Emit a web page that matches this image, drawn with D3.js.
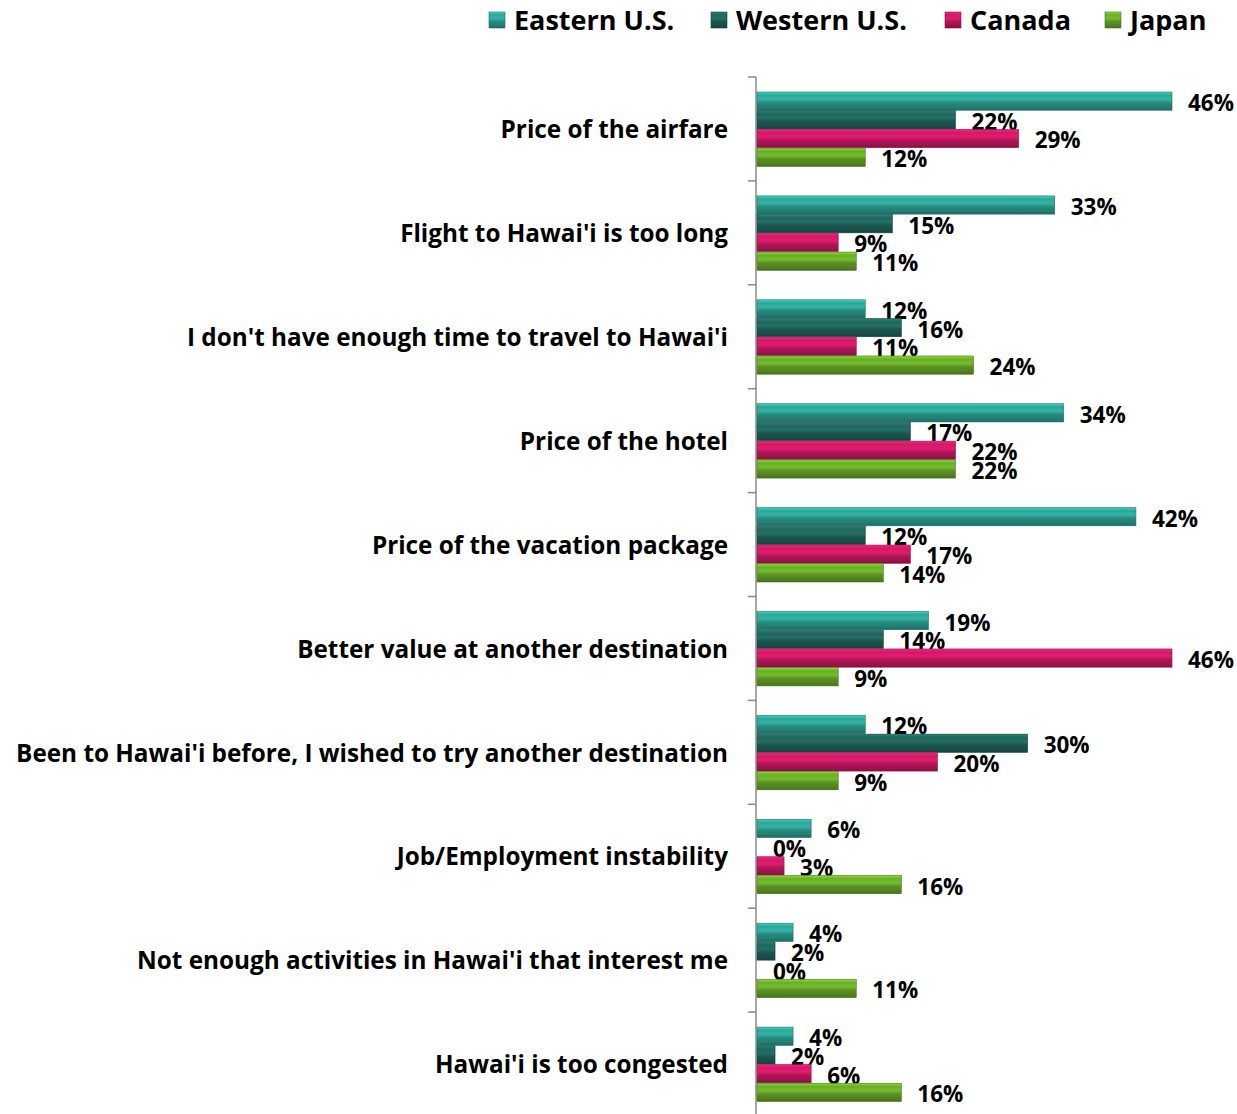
<!DOCTYPE html>
<html>
<head>
<meta charset="UTF-8">
<style>
  body { margin: 0; background: #fff; }
  text { font-family: "Open Sans", Lato, sans-serif; font-weight: bold; fill: #000; }
</style>
<script src="https://d3js.org/d3.v7.min.js"></script>
</head>
<body>
<svg width="1237" height="1114"></svg>
<script>
// reasons for not visiting, share of respondents (%)
var categories = [
  "Price of the airfare",
  "Flight to Hawai'i is too long",
  "I don't have enough time to travel to Hawai'i",
  "Price of the hotel",
  "Price of the vacation package",
  "Better value at another destination",
  "Been to Hawai'i before, I wished to try another destination",
  "Job/Employment instability",
  "Not enough activities in Hawai'i that interest me",
  "Hawai'i is too congested"
];
var seriesNames = ["Eastern U.S.", "Western U.S.", "Canada", "Japan"];
var eastern = [46, 33, 12, 34, 42, 19, 12, 6, 4, 4];
var western = [22, 15, 16, 17, 12, 14, 30, 0, 2, 2];
var canada  = [29, 9, 11, 22, 17, 46, 20, 3, 0, 6];
var japan   = [12, 11, 24, 22, 14, 9, 9, 16, 11, 16];
var seriesValues = [eastern, western, canada, japan];
var colors = ["#2b9a8c", "#1e5f58", "#c2185f", "#64a126"];

var svg = d3.select("svg");
var defs = svg.append("defs");

// bevel-like vertical gradients
colors.forEach(function(c, i) {
  var base = d3.color(c);
  var g = defs.append("linearGradient").attr("id", "grad" + i)
    .attr("x1", 0).attr("y1", 0).attr("x2", 0).attr("y2", 1);
  g.append("stop").attr("offset", "0%").attr("stop-color", base.brighter(0.9));
  g.append("stop").attr("offset", "18%").attr("stop-color", base.brighter(0.2));
  g.append("stop").attr("offset", "40%").attr("stop-color", base.brighter(0.45));
  g.append("stop").attr("offset", "60%").attr("stop-color", base.darker(0.3));
  g.append("stop").attr("offset", "85%").attr("stop-color", base.darker(0.6));
  g.append("stop").attr("offset", "100%").attr("stop-color", base.darker(1.1));
});

var x = d3.scaleLinear().domain([0, 46]).range([757, 1172]);
var y0 = d3.scaleBand().domain(categories).range([77, 1116]).padding(0);
var y1 = d3.scaleBand().domain(seriesNames)
  .range([15, y0.bandwidth() - 14]).padding(0);

// axis
var axis = svg.append("g").attr("transform", "translate(756,0)");
axis.append("line").attr("x1", 0).attr("x2", 0)
  .attr("y1", 77).attr("y2", 1114).attr("stroke", "#888").attr("stroke-width", 1.5);
var tickYs = categories.map(function(c) { return y0(c); });
axis.selectAll(".tk").data(tickYs).enter().append("line")
  .attr("x1", -8).attr("x2", 0)
  .attr("y1", function(d) { return d; }).attr("y2", function(d) { return d; })
  .attr("stroke", "#888").attr("stroke-width", 1.5);

// category labels
svg.selectAll(".cat").data(categories).enter().append("text")
  .attr("x", 728)
  .attr("y", function(d) { return y0(d) + y0.bandwidth() / 2; })
  .attr("dy", "0.38em")
  .attr("text-anchor", "end")
  .attr("font-size", "24.3px")
  .text(function(d) { return d; });

// bars
var groups = svg.selectAll(".grp").data(categories).enter().append("g")
  .attr("transform", function(d) { return "translate(0," + y0(d) + ")"; });

groups.each(function(cat, ci) {
  var g = d3.select(this);
  seriesNames.forEach(function(s, si) {
    var v = seriesValues[si][ci];
    var w = x(v) - x(0);
    if (w > 0) {
      g.append("rect")
        .attr("x", x(0))
        .attr("y", y1(s))
        .attr("width", w)
        .attr("height", y1.bandwidth() - 0.5)
        .attr("fill", "url(#grad" + si + ")")
        .attr("stroke", d3.color(colors[si]).darker(0.8))
        .attr("stroke-width", 0.6);
    }
    g.append("text")
      .attr("x", x(v) + 16)
      .attr("y", y1(s) + y1.bandwidth() / 2)
      .attr("dy", "0.43em")
      .attr("font-size", "22.5px")
      .text(v + "%");
  });
});

// legend
var legendX = [489, 711, 945, 1105];
var legend = svg.selectAll(".lg").data(seriesNames).enter().append("g")
  .attr("transform", function(d, i) { return "translate(" + legendX[i] + ",12)"; });
legend.append("rect")
  .attr("width", 16).attr("height", 16)
  .attr("fill", function(d, i) { return "url(#grad" + i + ")"; })
  .attr("stroke", function(d, i) { return d3.color(colors[i]).darker(0.8); })
  .attr("stroke-width", 0.6);
legend.append("text")
  .attr("x", 25).attr("y", 8)
  .attr("dy", "0.36em")
  .attr("font-size", "27px")
  .text(function(d) { return d; });
</script>
</body>
</html>
